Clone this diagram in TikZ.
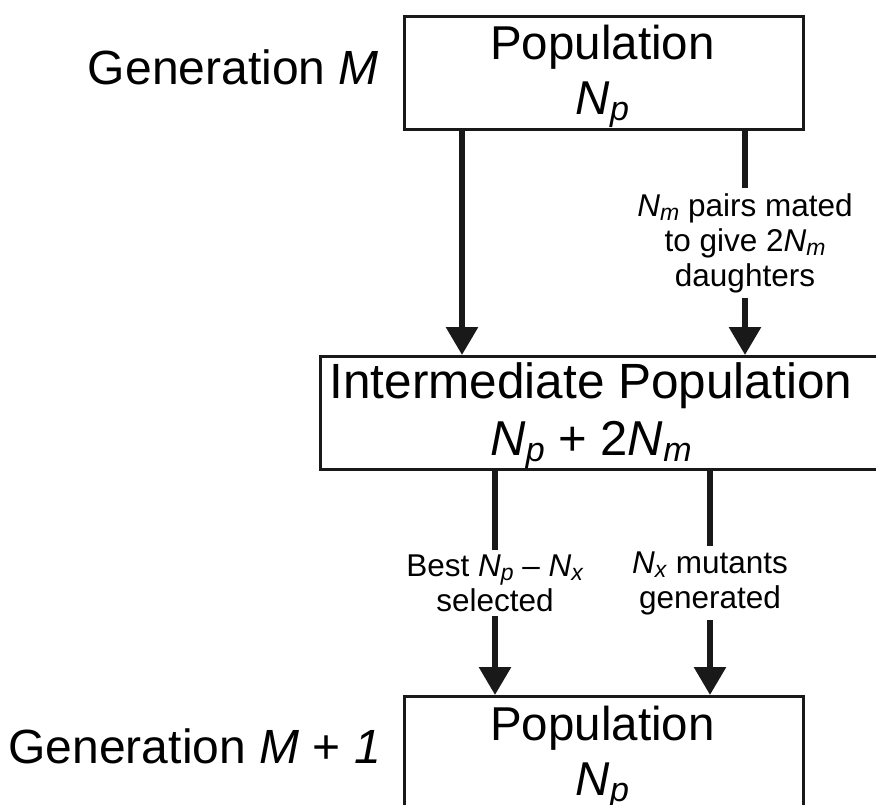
\documentclass[tikz,border=0pt]{standalone}
\usepackage{fontspec}
\setmainfont{Liberation Sans}
\usetikzlibrary{arrows.meta}
\newcommand{\NB}[1]{\textit{N}\raisebox{-6pt}{\fontsize{34}{34}\selectfont\textit{#1}}}
\newcommand{\NS}[1]{\textit{N}\raisebox{-4pt}{\fontsize{23}{23}\selectfont\textit{#1}}}
\tikzset{
  boxnode/.style={draw=black!90, line width=3pt, inner sep=0pt, anchor=north west},
  bigtxt/.style={font=\fontsize{47.5}{47.5}\selectfont, inner sep=0pt, anchor=base},
  lbl/.style={font=\fontsize{31.5}{35}\selectfont, align=center, fill=white, inner xsep=5pt, inner ysep=5pt},
  arr/.style={line width=6pt, draw=black!90, -{Triangle[width=31pt,length=28pt]}},
}
\begin{document}
\begin{tikzpicture}[x=1pt,y=-1pt]
\useasboundingbox (0,0) rectangle (876,805);
% boxes
\node[boxnode, minimum width=399pt, minimum height=113pt] (top) at (403,15) {};
\node[boxnode, minimum width=580pt, minimum height=113pt] (mid) at (319,355) {};
\node[boxnode, minimum width=399pt, minimum height=140pt] (bot) at (403,695) {};
% box texts
\node[bigtxt] (t1) at (602.5,60) {Population};
\node[bigtxt] (t2) at (602.5,115) {\NB{p}};
\node[bigtxt, font=\fontsize{49.5}{49.5}\selectfont] (m1) at (591,398) {Intermediate Population};
\node[bigtxt, font=\fontsize{49}{49}\selectfont] (m2) at (591,455) {\NB{p} + 2\NB{m}};
\node[bigtxt] (b1) at (602.5,740) {Population};
\node[bigtxt] (b2) at (602.5,795) {\NB{p}};
% generation labels
\node[bigtxt, font=\fontsize{48}{48}\selectfont, anchor=base east] (g1) at (379,85) {Generation \textit{M}};
\node[bigtxt, font=\fontsize{48}{48}\selectfont, anchor=base east] (g2) at (381,763) {Generation \textit{M} + \textit{1}};
% arrow columns
\coordinate (c1) at (462,0);
\coordinate (c2) at (745,0);
\coordinate (c3) at (495,0);
\coordinate (c4) at (710,0);
\draw[arr] (top.south -| c1) -- (mid.north -| c1);
\draw[arr] (top.south -| c2) -- node[lbl] (l1) {\NS{m} pairs mated\\to give 2\NS{m}\\daughters} (mid.north -| c2);
\draw[arr] (mid.south -| c3) -- node[lbl] (l2) {Best \NS{p} -- \NS{x}\\selected} (bot.north -| c3);
\draw[arr] (mid.south -| c4) -- node[lbl] (l3) {\NS{x} mutants\\generated} (bot.north -| c4);
\end{tikzpicture}
\end{document}
